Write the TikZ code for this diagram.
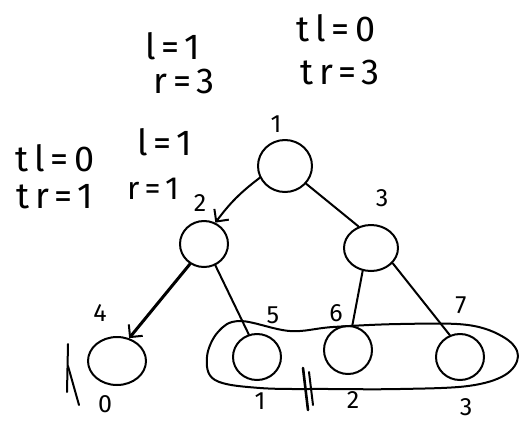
\documentclass[tikz,border=0pt]{standalone}
\usepackage{fontspec}
\setmainfont{Fira Sans}
\newfontfamily\handfont[LetterSpace=16]{Fira Sans}
\usetikzlibrary{shapes.geometric,arrows.meta}
\begin{document}
\begin{tikzpicture}[x=1pt,y=-1pt,
  pen/.style={line width=2pt,line cap=round,line join=round},
  vert/.style={pen,draw,ellipse,minimum width=48pt,minimum height=46pt,inner sep=0pt},
  lbl/.style={font=\handfont\fontsize{25}{27}\selectfont,inner sep=0pt},
  note/.style={font=\handfont\fontsize{36}{38}\selectfont,inner sep=0pt},
  tip/.style={-{Straight Barb[length=9pt,width=18pt,line width=2pt]}}
]
\useasboundingbox (0,0) rectangle (522,424);
% vertices
\node[vert,minimum width=54pt,minimum height=52pt] (v1) at (285,166) {};
\node[vert] (v2) at (204,244) {};
\node[vert,minimum width=54pt] (v3) at (371,248) {};
\node[vert,minimum width=58pt,minimum height=48pt] (v4) at (117,361) {};
\node[vert] (v5) at (257,357) {};
\node[vert,minimum height=48pt] (v6) at (348,350) {};
\node[vert] (v7) at (460,357) {};
% labels (1-based, above)
\node[lbl] (a1) at (276,124) {1};
\node[lbl] (a2) at (200,203) {2};
\node[lbl] (a3) at (382,198) {3};
\node[lbl] (a4) at (100,313) {4};
\node[lbl] (a5) at (273,315) {5};
\node[lbl] (a6) at (336,313) {6};
\node[lbl] (a7) at (461,305) {7};
% labels (0-based, below)
\node[lbl] (b0) at (105,404) {0};
\node[lbl] (b1) at (260,401) {1};
\node[lbl] (b2) at (353,400) {2};
\node[lbl] (b3) at (466,407) {3};
% notes
\node[note] (t1) at (173,46) {l=1};
\node[note] (t2) at (184,81) {r=3};
\node[note] (t3) at (336,28) {tl=0};
\node[note] (t4) at (340,72) {tr=3};
\node[note] (t5) at (55,158) {tl=0};
\node[note] (t6) at (55,197) {tr=1};
\node[note] (t7) at (165,142) {l=1};
\node[inner sep=0pt,font=\handfont\fontsize{32}{34}\selectfont] (t8) at (153,189) {r=1};
% edges
\draw[pen,tip] (v1.205) to[bend right=8] (v2.62);
\draw[pen,tip,line width=3pt] (v2.235) -- (v4.62);
\draw[pen] (v2.-62) -- (v5.110);
\draw[pen] (v1.-40) -- (v3.120);
\draw[pen] (v3.-110) -- (v6.80);
\draw[pen] (v3.-35) -- (v7.115);
% enclosing loop around 5,6,7
\draw[pen] plot[smooth cycle,tension=0.6] coordinates {
  (240,321) (290,331) (333,327) (400,324) (468,325) (505,338) (518,356)
  (505,375) (468,386) (400,389) (330,389) (260,388) (215,380) (207,357) (218,332)};
% cut marks on the loop
\draw[pen,line width=2.6pt] (303,368) -- (308,410);
\draw[pen,line width=2pt] (309,372) -- (313,405);
% mark left of vertex 4
\draw[pen] (68,344) -- (67,392);
\draw[pen] (68,366) -- (79,405);
\end{tikzpicture}
\end{document}
